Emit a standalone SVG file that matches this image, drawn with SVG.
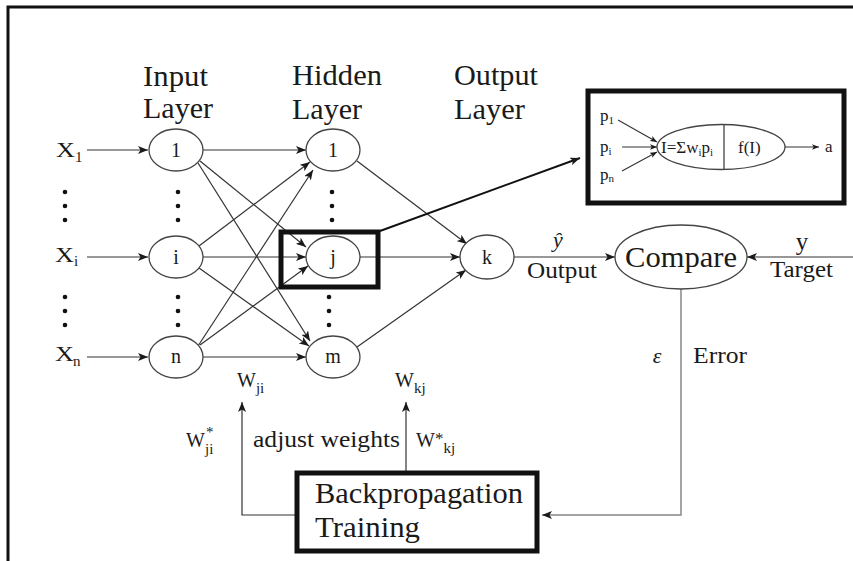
<svg xmlns="http://www.w3.org/2000/svg" width="853" height="561" viewBox="0 0 853 561">
<defs>
<marker id="ah" viewBox="0 0 10 8" refX="10" refY="4" markerWidth="10" markerHeight="8" markerUnits="userSpaceOnUse" orient="auto"><path d="M0,0 L10,4 L0,8 L2.5,4 z" fill="#1a1a1a"/></marker>
<marker id="ahs" viewBox="0 0 10 8" refX="10" refY="4" markerWidth="7" markerHeight="5.6" markerUnits="userSpaceOnUse" orient="auto"><path d="M0,0 L10,4 L0,8 L2.5,4 z" fill="#1a1a1a"/></marker>
<style>
text{font-family:"Liberation Serif","Times New Roman",Tinos,serif;fill:#1a1a1a}
.node{fill:#fff;stroke:#444;stroke-width:1.3}
.lab{font-size:20px;text-anchor:middle}
.hdr{font-size:30px}
.ca{fill:none;stroke:#333;stroke-width:1.2;marker-end:url(#ah)}
.cs{fill:none;stroke:#333;stroke-width:1.1;marker-end:url(#ahs)}
.thick{fill:none;stroke:#111;stroke-width:5}
.dot{fill:#111}
</style>
</defs>
<rect width="853" height="561" fill="#fff"/>
<path d="M8,561 V7 H853" fill="none" stroke="#111" stroke-width="3"/>

<g id="headers">
<text class="hdr" x="143" y="86" textLength="65" lengthAdjust="spacingAndGlyphs">Input</text>
<text class="hdr" x="143" y="118" textLength="70" lengthAdjust="spacingAndGlyphs">Layer</text>
<text class="hdr" x="292" y="85" textLength="90" lengthAdjust="spacingAndGlyphs">Hidden</text>
<text class="hdr" x="292" y="119" textLength="70" lengthAdjust="spacingAndGlyphs">Layer</text>
<text class="hdr" x="454" y="85" textLength="84" lengthAdjust="spacingAndGlyphs">Output</text>
<text class="hdr" x="454" y="119" textLength="71" lengthAdjust="spacingAndGlyphs">Layer</text>
</g>

<g id="connectors">
<line class="ca" x1="87" y1="150" x2="148" y2="150"/>
<line class="ca" x1="87" y1="257" x2="148" y2="257"/>
<line class="ca" x1="87" y1="357" x2="148" y2="357"/>
<line class="ca" x1="203" y1="150" x2="306" y2="150"/>
<line class="ca" x1="200" y1="161" x2="306" y2="247"/>
<line class="ca" x1="198" y1="163" x2="310" y2="341"/>
<line class="ca" x1="199" y1="246" x2="310" y2="162"/>
<line class="ca" x1="203" y1="257" x2="306" y2="257"/>
<line class="ca" x1="199" y1="268" x2="309" y2="346"/>
<line class="ca" x1="198" y1="346" x2="313" y2="170"/>
<line class="ca" x1="200" y1="345" x2="308" y2="266"/>
<line class="ca" x1="203" y1="357" x2="306" y2="357"/>
<line class="ca" x1="357" y1="161" x2="467" y2="244"/>
<line class="ca" x1="360" y1="257" x2="460" y2="257"/>
<line class="ca" x1="357" y1="347" x2="466" y2="270"/>
<line class="ca" x1="514" y1="257" x2="615" y2="257"/>
<line class="ca" x1="853" y1="257" x2="747" y2="257"/>
<line x1="380" y1="231" x2="580" y2="158" stroke="#111" stroke-width="2" marker-end="url(#ah)"/>
<path d="M681,289 V515 H542" fill="none" stroke="#888" stroke-width="1.5" marker-end="url(#ah)"/>
<path d="M297,515 H242 V402" class="ca"/>
<line class="ca" x1="406" y1="473" x2="406" y2="402"/>
</g>

<g id="x-labels">
<text x="56" y="157" font-size="22" textLength="19" lengthAdjust="spacingAndGlyphs">X</text><text x="75" y="162" font-size="15">1</text>
<text x="55" y="262" font-size="22" textLength="19" lengthAdjust="spacingAndGlyphs">X</text><text x="74" y="266" font-size="15">i</text>
<text x="55" y="361" font-size="22" textLength="19" lengthAdjust="spacingAndGlyphs">X</text><text x="73" y="366" font-size="15">n</text>
</g>

<g id="dots">
<circle class="dot" cx="65" cy="192" r="2.3"/><circle class="dot" cx="65" cy="206" r="2.3"/><circle class="dot" cx="65" cy="220" r="2.3"/>
<circle class="dot" cx="65" cy="297" r="2.3"/><circle class="dot" cx="65" cy="311" r="2.3"/><circle class="dot" cx="65" cy="325" r="2.3"/>
<circle class="dot" cx="178" cy="192" r="2.3"/><circle class="dot" cx="178" cy="206" r="2.3"/><circle class="dot" cx="178" cy="220" r="2.3"/>
<circle class="dot" cx="178" cy="297" r="2.3"/><circle class="dot" cx="178" cy="311" r="2.3"/><circle class="dot" cx="178" cy="325" r="2.3"/>
<circle class="dot" cx="332" cy="192" r="2.3"/><circle class="dot" cx="332" cy="206" r="2.3"/><circle class="dot" cx="332" cy="220" r="2.3"/>
<circle class="dot" cx="329" cy="297" r="2.3"/><circle class="dot" cx="329" cy="311" r="2.3"/><circle class="dot" cx="329" cy="325" r="2.3"/>
</g>

<g id="in1"><ellipse class="node" cx="176" cy="150" rx="27" ry="21"/><text class="lab" x="176" y="157">1</text></g>
<g id="in-i"><ellipse class="node" cx="176" cy="257" rx="27" ry="21"/><text class="lab" x="176" y="264">i</text></g>
<g id="in-n"><ellipse class="node" cx="176" cy="357" rx="27" ry="21"/><text class="lab" x="176" y="363">n</text></g>
<g id="h1"><ellipse class="node" cx="333" cy="150" rx="27" ry="21"/><text class="lab" x="333" y="157">1</text></g>
<g id="h-j"><ellipse class="node" cx="333" cy="257" rx="27" ry="21"/><text class="lab" x="333" y="264">j</text></g>
<g id="h-m"><ellipse class="node" cx="333" cy="357" rx="27" ry="21"/><text class="lab" x="333" y="363">m</text></g>
<g id="out-k"><ellipse class="node" cx="487" cy="257" rx="27" ry="22"/><text class="lab" x="487" y="264">k</text></g>
<g id="jbox"><rect class="thick" x="281" y="232" width="97" height="55" stroke-width="4"/></g>

<g id="compare"><ellipse class="node" cx="681" cy="257" rx="66" ry="32"/><text x="681" y="267" font-size="30" text-anchor="middle" textLength="112" lengthAdjust="spacingAndGlyphs">Compare</text></g>

<g id="edge-labels">
<text x="558" y="247" font-size="22" font-style="italic" text-anchor="middle">ŷ</text>
<text x="527" y="278" font-size="24" textLength="70" lengthAdjust="spacingAndGlyphs">Output</text>
<text x="802" y="250" font-size="25" text-anchor="middle">y</text>
<text x="770" y="277" font-size="24" textLength="63" lengthAdjust="spacingAndGlyphs">Target</text>
<text x="657" y="363" font-size="22" font-style="italic" text-anchor="middle">ε</text>
<text x="693" y="363" font-size="24" textLength="54" lengthAdjust="spacingAndGlyphs">Error</text>
<text x="237" y="387" font-size="20">W<tspan font-size="15" dy="6">ji</tspan></text>
<text x="395" y="387" font-size="20">W<tspan font-size="15" dy="6">kj</tspan></text>
<text x="186" y="447" font-size="20">W</text>
<text x="206" y="437" font-size="15">*</text>
<text x="205" y="454" font-size="15">ji</text>
<text x="253" y="447" font-size="24" textLength="147" lengthAdjust="spacingAndGlyphs">adjust weights</text>
<text x="416" y="447" font-size="20">W<tspan font-size="17" dy="-3">*</tspan><tspan font-size="15" dy="9">kj</tspan></text>
</g>

<g id="backprop">
<rect class="thick" x="297" y="473" width="240" height="78"/>
<text x="315" y="503" font-size="29" textLength="208" lengthAdjust="spacingAndGlyphs">Backpropagation</text>
<text x="315" y="537" font-size="29" textLength="105" lengthAdjust="spacingAndGlyphs">Training</text>
</g>

<g id="neuron-inset">
<rect class="thick" x="588" y="91" width="256" height="112" stroke-width="6"/>
<text x="600" y="121" font-size="17">p<tspan font-size="11" dy="3">1</tspan></text>
<text x="600" y="152" font-size="17">p<tspan font-size="11" dy="3">i</tspan></text>
<text x="600" y="180" font-size="17">p<tspan font-size="11" dy="2">n</tspan></text>
<line class="cs" x1="618" y1="120" x2="657" y2="142"/>
<line class="cs" x1="622" y1="147" x2="657" y2="147"/>
<line class="cs" x1="622" y1="171" x2="657" y2="152"/>
<ellipse class="node" cx="721" cy="147" rx="64" ry="22.5"/>
<line x1="724" y1="125" x2="724" y2="170" stroke="#444" stroke-width="1.3"/>
<text x="661" y="153" font-size="17">I=Σw<tspan font-size="11" dy="3">i</tspan><tspan dy="-3">p</tspan><tspan font-size="11" dy="3">i</tspan></text>
<text x="738" y="153" font-size="17">f(I)</text>
<line class="cs" x1="785" y1="147" x2="819" y2="147"/>
<text x="825" y="152" font-size="17">a</text>
</g>
</svg>
